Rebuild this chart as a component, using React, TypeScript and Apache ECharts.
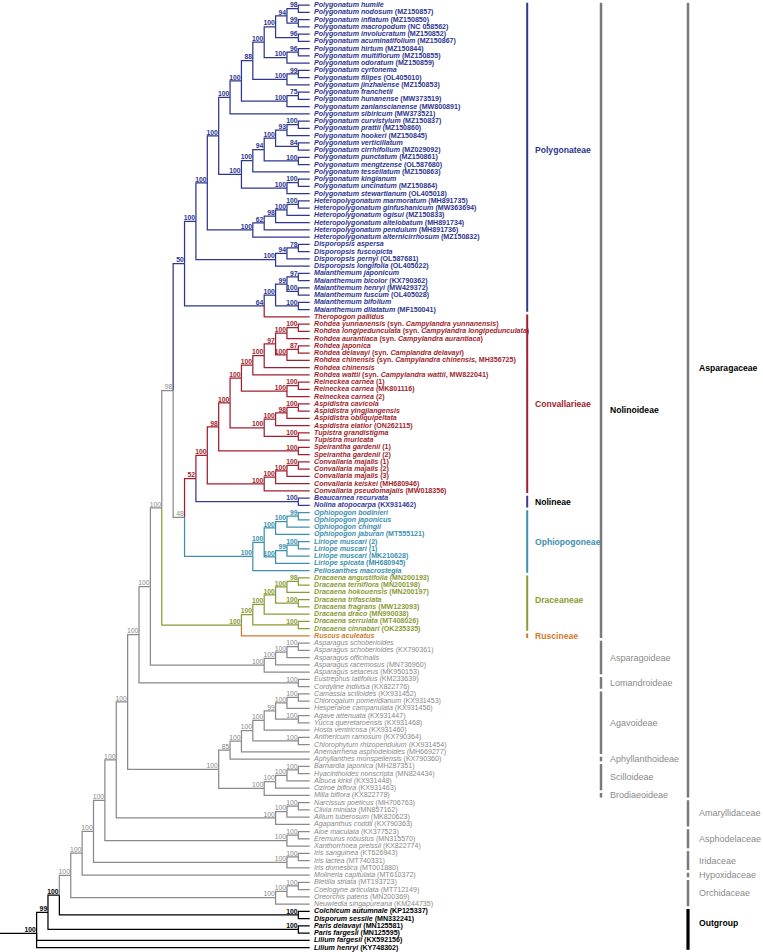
import React, { useEffect, useRef } from "react";
import * as echarts from "echarts";

// ---------------- DATA ----------------
const LEAF_LABELS: string[] = [
  "Polygonatum humile",
  "Polygonatum nodosum (MZ150857)",
  "Polygonatum inflatum (MZ150850)",
  "Polygonatum macropodum (NC 058562)",
  "Polygonatum involucratum (MZ150852)",
  "Polygonatum acuminatifolium (MZ150867)",
  "Polygonatum hirtum (MZ150844)",
  "Polygonatum multiflorum (MZ150855)",
  "Polygonatum odoratum (MZ150859)",
  "Polygonatum cyrtonema",
  "Polygonatum filipes (OL405010)",
  "Polygonatum jinzhaiense (MZ150853)",
  "Polygonatum franchetii",
  "Polygonatum hunanense (MW373519)",
  "Polygonatum zanlanscianense (MW800891)",
  "Polygonatum sibiricum (MW373521)",
  "Polygonatum curvistylum (MZ150837)",
  "Polygonatum prattii (MZ150860)",
  "Polygonatum hookeri (MZ150845)",
  "Polygonatum verticillatum",
  "Polygonatum cirrhifolium (MZ029092)",
  "Polygonatum punctatum (MZ150861)",
  "Polygonatum mengtzense (OL587680)",
  "Polygonatum tessellatum (MZ150863)",
  "Polygonatum kingianum",
  "Polygonatum uncinatum (MZ150864)",
  "Polygonatum stewartianum (OL405018)",
  "Heteropolygonatum marmoratum (MH891735)",
  "Heteropolygonatum ginfushanicum (MW363694)",
  "Heteropolygonatum ogisui (MZ150833)",
  "Heteropolygonatum altelobatum (MH891734)",
  "Heteropolygonatum pendulum (MH891736)",
  "Heteropolygonatum alternicirrhosum (MZ150832)",
  "Disporopsis aspersa",
  "Disporopsis fuscopicta",
  "Disporopsis pernyi (OL587681)",
  "Disporopsis longifolia (OL405022)",
  "Maianthemum japonicum",
  "Maianthemum bicolor (KX790362)",
  "Maianthemum henryi (MW429372)",
  "Maianthemum fuscum (OL405028)",
  "Maianthemum bifolium",
  "Maianthemum dilatatum (MF150041)",
  "Theropogon pallidus",
  "Rohdea yunnanensis (syn. Campylandra yunnanensis)",
  "Rohdea longipedunculata (syn. Campylandra longipedunculata)",
  "Rohdea aurantiaca (syn. Campylandra aurantiaca)",
  "Rohdea japonica",
  "Rohdea delavayi (syn. Camplandra delavayi)",
  "Rohdea chinensis (syn. Campylandra chinensis, MH356725)",
  "Rohdea chinensis",
  "Rohdea wattii (syn. Campylandra wattii, MW822041)",
  "Reineckea carnea (1)",
  "Reineckea carnea (MK801116)",
  "Reineckea carnea (2)",
  "Aspidistra cavicola",
  "Aspidistra yingjiangensis",
  "Aspidistra obliquipeltata",
  "Aspidistra elatior (ON262115)",
  "Tupistra grandistigma",
  "Tupistra muricata",
  "Speirantha gardenii (1)",
  "Speirantha gardenii (2)",
  "Convallaria majalis (1)",
  "Convallaria majalis (2)",
  "Convallaria majalis (3)",
  "Convallaria keiskei (MH680946)",
  "Convallaria pseudomajalis (MW018356)",
  "Beaucarnea recurvata",
  "Nolina atopocarpa (KX931462)",
  "Ophiopogon bodinieri",
  "Ophiopogon japonicus",
  "Ophiopogon chingii",
  "Ophiopogon jaburan (MT555121)",
  "Liriope muscari (2)",
  "Liriope muscari (1)",
  "Liriope muscari (MK210628)",
  "Liriope spicata (MH680945)",
  "Peliosanthes macrostegia",
  "Dracaena angustifolia (MN200193)",
  "Dracaena terniflora (MN200198)",
  "Dracaena hokouensis (MN200197)",
  "Dracaena trifasciata",
  "Dracaena fragrans (MW123093)",
  "Dracaena draco (MN990038)",
  "Dracaena serrulata (MT408026)",
  "Dracaena cinnabari (OK235335)",
  "Ruscus aculeatus",
  "Asparagus schoberioides",
  "Asparagus schoberioides (KX790361)",
  "Asparagus officinalis",
  "Asparagus racemosus (MN736960)",
  "Asparagus setaceus (MK950153)",
  "Eustrephus latifolius (KM233639)",
  "Cordyline indivisa (KX822776)",
  "Camassia scilloides (KX931452)",
  "Chlorogalum pomeridianum (KX931453)",
  "Hesperaloe campanulata (KX931456)",
  "Agave attenuata (KX931447)",
  "Yucca queretaroensis (KX931468)",
  "Hosta ventricosa (KX931460)",
  "Anthericum ramosum (KX790364)",
  "Chlorophytum rhizopendulum (KX931454)",
  "Anemarrhena asphodeloides (MH669277)",
  "Aphyllanthes monspeliensis (KX790360)",
  "Barnardia japonica (MH287351)",
  "Hyacinthoides nonscripta (MN824434)",
  "Albuca kirkii (KX931448)",
  "Oziroe biflora (KX931463)",
  "Milla biflora (KX822778)",
  "Narcissus poeticus (MH706763)",
  "Clivia miniata (MN857162)",
  "Allium tuberosum (MK820623)",
  "Agapanthus coddii (KX790363)",
  "Aloe maculata (KX377523)",
  "Eremurus robustus (MN315570)",
  "Xanthorrhoea preissii (KX822774)",
  "Iris sanguinea (KT626943)",
  "Iris lactea (MT740331)",
  "Iris domestica (MT001880)",
  "Molineria capitulata (MT610372)",
  "Bletilla striata (MT193723)",
  "Coelogyne articulata (MT712149)",
  "Oreorchis patens (MN200369)",
  "Neuwiedia singapureana (KM244735)",
  "Colchicum autumnale (KP125337)",
  "Disporum sessile (MN332241)",
  "Paris delavayi (MN125581)",
  "Paris fargesii (MN125595)",
  "Lilium fargesii (KX592156)",
  "Lilium henryi (KY748302)",
];

// leaf colour groups: [group, firstLeaf, lastLeaf]
const LEAF_GROUPS: [string, number, number][] = [
  ["P", 0, 42],
  ["C", 43, 67],
  ["N", 68, 69],
  ["O", 70, 78],
  ["D", 79, 86],
  ["R", 87, 87],
  ["G", 88, 124],
  ["K", 125, 130],
];

const TRIBES: [string, number, number][] = [
  ["Polygonateae", 0, 42],
  ["Convallarieae", 43, 67],
  ["Nolineae", 68, 69],
  ["Ophiopogoneae", 70, 78],
  ["Draceaneae", 79, 86],
  ["Ruscineae", 87, 87],
];
const SUBFAMILIES: [string, number, number][] = [
  ["Nolinoideae", 0, 87],
  ["Asparagoideae", 88, 92],
  ["Lomandroideae", 93, 94],
  ["Agavoideae", 95, 103],
  ["Aphyllanthoideae", 104, 104],
  ["Scilloideae", 105, 108],
  ["Brodiaeoideae", 109, 109],
];
const FAMILIES: [string, number, number][] = [
  ["Asparagaceae", 0, 109],
  ["Amaryllidaceae", 110, 113],
  ["Asphodelaceae", 114, 116],
  ["Iridaceae", 117, 119],
  ["Hypoxidaceae", 120, 120],
  ["Orchidaceae", 121, 124],
  ["Outgroup", 125, 130],
];

// ---------------- TREE TOPOLOGY (leaf indices, bootstrap labels) ----------------
type TNode = number | { b: string; col?: string; c: TNode[] };
const N = (b: string, ...c: TNode[]): TNode => ({ b, c });
const NC = (b: string, col: string, ...c: TNode[]): TNode => ({ b, col, c });

const P_A = N("94", N("98", 0, 1), N("99", 2, 3));
const P_C = N("100", N("96", 6, 7), 8);
const P_E = N("100", N("99", 9, 10), 11);
const P_G = N("100", N("75", 12, 13), 14);
const POLY_I = N("100", N("100", N("88", N("100", N("100", P_A, N("96", 4, 5)), P_C), P_E), P_G), 15);
const POLY_II = N(
  "100",
  N("100", N("94", N("100", N("93", N("100", 16, 17), 18), N("84", 19, 20)), N("100", 21, 22)), 23),
  N("100", N("100", 24, 25), 26)
);
const HETERO = N("100", N("62", N("98", N("100", N("100", 27, 28), 29), 30), 31), 32);
const DISPOROPSIS = N("100", N("94", N("78", 33, 34), 35), 36);
const MAIANTHEMUM = N("100", N("99", N("97", 37, 38), N("100", 39, 40)), N("100", 41, 42));
const POLYGONATEAE = NC(
  "50",
  "P",
  N("100", N("100", N("100", POLY_I, POLY_II), HETERO), DISPOROPSIS),
  NC("64", "P", MAIANTHEMUM, 43)
);
const ROHDEA = N(
  "100",
  N("100", N("97", N("100", N("100", 44, 45), 46), N("100", N("87", 47, 48), 49)), 50),
  51
);
const REINECKEA = N("100", N("100", 52, 53), 54);
const ASPIDISTRA = N("100", N("98", N("100", 55, 56), 57), 58);
const CONVALLARIA = N("100", N("100", N("100", N("100", 63, 64), 65), 66), 67);
const CONVALLARIEAE = N(
  "100",
  N("98", N("100", N("100", ROHDEA, REINECKEA), N("100", ASPIDISTRA, N("100", 59, 60))), N("100", 61, 62)),
  CONVALLARIA
);
const OPHIOPOGONEAE = N(
  "100",
  N("100", N("100", N("100", N("99", 70, 71), 72), 73), N("100", N("99", N("100", 74, 75), 76), 77)),
  78
);
const DRACAENA = N(
  "100",
  N("100", N("100", N("100", N("98", 79, 80), 81), N("100", 82, 83)), 84),
  N("100", 85, 86)
);
const NOLINOIDEAE = N(
  "100",
  N("98", POLYGONATEAE, N("48", NC("52", "C", CONVALLARIEAE, N("100", 68, 69)), OPHIOPOGONEAE)),
  NC("100", "D", DRACAENA, 87)
);
const ASPARAGOIDEAE = N("100", N("100", N("100", N("100", 88, 89), 90), 91), 92);
const AGAVOIDEAE = N(
  "100",
  N("100", N("100", N("99", N("100", N("100", 95, 96), 97), N("100", 98, 99)), 100), N("100", 101, 102)),
  103
);
const SCILLOIDEAE = N("100", N("100", N("100", N("100", 105, 106), 107), 108), 109);
const ASPARAGACEAE = N(
  "100",
  N("100", N("100", NOLINOIDEAE, ASPARAGOIDEAE), N("100", 93, 94)),
  N("100", N("85", AGAVOIDEAE, 104), SCILLOIDEAE)
);
const INGROUP = N(
  "100",
  N(
    "100",
    N(
      "100",
      N("100", N("100", ASPARAGACEAE, N("100", N("100", N("100", 110, 111), 112), 113)), N("100", N("100", 114, 115), 116)),
      N("100", N("100", 117, 118), 119)
    ),
    120
  ),
  N("100", N("100", N("100", 121, 122), 123), 124)
);
const TREE = NC(
  "100",
  "K",
  NC("99", "K", NC("100", "K", INGROUP, N("100", 125, 126)), N("100", 127, 128)),
  129,
  130
);

// ---------------- STYLES ----------------
const COLORS: Record<string, string> = {
  P: "#2e368f",
  C: "#a11f2e",
  N: "#38389a",
  O: "#3d90ad",
  D: "#8c9b36",
  R: "#cf7b2c",
  G: "#8a8a8a",
  K: "#000000",
};
const FONT = "'Liberation Sans', Arial, Helvetica, sans-serif";
const X0 = 36.6; // root x (px)
const STEP = 11.38; // px per node level
const TOP = 5;
const ROW = 7.25;
const LABEL_STYLE: Record<string, { bar: string; text: string; bold: boolean; at?: number; w?: number }> = {
  Polygonateae: { bar: COLORS.P, text: COLORS.P, bold: true, at: 20 },
  Convallarieae: { bar: COLORS.C, text: COLORS.C, bold: true },
  Nolineae: { bar: COLORS.N, text: "#000", bold: true },
  Ophiopogoneae: { bar: COLORS.O, text: COLORS.O, bold: true },
  Draceaneae: { bar: COLORS.D, text: COLORS.D, bold: true, at: 82.1 },
  Ruscineae: { bar: COLORS.R, text: COLORS.R, bold: true },
  Nolinoideae: { bar: "#7a7a7a", text: "#000", bold: true, at: 55.9 },
  Asparagaceae: { bar: "#7a7a7a", text: "#000", bold: true, at: 50 },
  Outgroup: { bar: "#000", text: "#000", bold: true, at: 126.6, w: 3.2 },
};

function leafGroup(i: number): string {
  for (const [g, a, b] of LEAF_GROUPS) if (i >= a && i <= b) return g;
  return "G";
}

interface LNode {
  h: number;
  y: number;
  b?: string;
  color: string;
  kids: LNode[];
  groups: Set<string>;
}
function build(t: TNode): LNode {
  if (typeof t === "number") {
    const g = leafGroup(t);
    return { h: 0, y: t, color: g, kids: [], groups: new Set([g]) };
  }
  const kids = t.c.map(build);
  const h = 1 + Math.max(...kids.map((k) => k.h));
  const y = kids.reduce((s, k) => s + k.y, 0) / kids.length;
  const groups = new Set<string>();
  kids.forEach((k) => k.groups.forEach((g) => groups.add(g)));
  const color = t.col ?? (groups.size === 1 ? [...groups][0] : "G");
  return { h, y, b: t.b, color, kids, groups };
}

function richLabel(s: string): string {
  const m = s.match(/^(\S+ \S+)(.*)$/);
  if (!m) return `{i|${s}}`;
  let out = `{i|${m[1]}}`;
  const rest = m[2];
  if (!rest) return out;
  const sm = rest.match(/^(.*?syn\. )(\S+ [^,\s)]+)(.*)$/);
  if (sm) out += `{n|${sm[1]}}{i|${sm[2]}}{n|${sm[3]}}`;
  else out += `{n|${rest}}`;
  return out;
}

export default function App() {
  const ref = useRef<HTMLDivElement>(null);
  useEffect(() => {
    document.body.style.margin = "0";
    const chart = echarts.init(ref.current!, null, { renderer: "svg" });
    const root = build(TREE);
    const H = root.h;

    const edges: { pv: number; py: number; cv: number; cy: number; col: string }[] = [];
    const inner: { v: number; y: number; b: string; col: string }[] = [];
    const walk = (n: LNode) => {
      if (n.kids.length === 0) return;
      inner.push({ v: H - n.h, y: n.y, b: n.b || "", col: n.color });
      n.kids.forEach((k) => {
        edges.push({ pv: H - n.h, py: n.y, cv: H - k.h, cy: k.y, col: k.color });
        walk(k);
      });
    };
    walk(root);
    edges.push({ pv: -X0 / STEP, py: root.y, cv: 0, cy: root.y, col: "K" });

    const clades: { name: string; a: number; b: number; level: number }[] = [];
    TRIBES.forEach(([name, a, b]) => clades.push({ name, a, b, level: 0 }));
    SUBFAMILIES.forEach(([name, a, b]) => clades.push({ name, a, b, level: 1 }));
    FAMILIES.forEach(([name, a, b]) => clades.push({ name, a, b, level: 2 }));
    const BAR_X = [526.2, 600, 687];
    const TXT_X = [535, 610, 699];

    const option: any = {
      animation: false,
      grid: { left: X0, top: TOP, width: H * STEP, height: 130 * ROW },
      xAxis: { type: "value", min: 0, max: H, show: false },
      yAxis: { type: "value", min: 0, max: 130, inverse: true, show: false },
      series: [
        {
          type: "custom",
          coordinateSystem: "cartesian2d",
          clip: false,
          silent: true,
          data: edges.map((e) => [e.pv, e.py, e.cv, e.cy]),
          renderItem: (params: any, api: any) => {
            const e = edges[params.dataIndex];
            const p = api.coord([api.value(0), api.value(1)]);
            const c = api.coord([api.value(2), api.value(3)]);
            return {
              type: "polyline",
              shape: { points: [p, [p[0], c[1]], c] },
              style: { stroke: COLORS[e.col], lineWidth: 1.25, fill: "none" },
            };
          },
        },
        {
          type: "custom",
          coordinateSystem: "cartesian2d",
          clip: false,
          silent: true,
          data: inner.map((n) => [n.v, n.y]),
          renderItem: (params: any, api: any) => {
            const n = inner[params.dataIndex];
            const p = api.coord([api.value(0), api.value(1)]);
            return {
              type: "text",
              style: {
                text: n.b,
                x: p[0] - 0.8,
                y: p[1] - 0.3,
                align: "right",
                verticalAlign: "bottom",
                fontSize: 6.8,
                fontFamily: FONT,
                fontWeight: n.col === "G" ? "normal" : "bold",
                fill: COLORS[n.col],
              },
            };
          },
        },
        {
          type: "custom",
          coordinateSystem: "cartesian2d",
          clip: false,
          silent: true,
          data: LEAF_LABELS.map((_, i) => [H, i]),
          renderItem: (params: any, api: any) => {
            const i = params.dataIndex;
            const g = leafGroup(i);
            const p = api.coord([api.value(0), api.value(1)]);
            const bold = g === "G" ? "normal" : "bold";
            const base = { fontSize: 7.1, fontFamily: FONT, fontWeight: bold, fill: COLORS[g] };
            return {
              type: "text",
              style: {
                text: richLabel(LEAF_LABELS[i]),
                x: p[0] + 4.3,
                y: p[1],
                align: "left",
                verticalAlign: "middle",
                ...base,
                rich: {
                  i: { ...base, fontStyle: "italic" },
                  n: { ...base, fontStyle: "normal" },
                },
              },
            };
          },
        },
        {
          type: "custom",
          coordinateSystem: "cartesian2d",
          clip: false,
          silent: true,
          data: clades.map((c) => [c.a, c.b]),
          renderItem: (params: any, api: any) => {
            const c = clades[params.dataIndex];
            const st = LABEL_STYLE[c.name] || { bar: c.level === 0 ? "#888" : "#7a7a7a", text: "#8a8a8a", bold: false };
            const y1 = api.coord([0, api.value(0)])[1] - 2.3;
            const y2 = api.coord([0, api.value(1)])[1] + 2.3;
            const at = st.at !== undefined ? st.at : (c.a + c.b) / 2;
            const ly = api.coord([0, at])[1];
            const w = st.w || (c.level === 0 ? 2 : 2.5);
            return {
              type: "group",
              children: [
                {
                  type: "rect",
                  shape: { x: BAR_X[c.level] - w / 2 + 1, y: y1, width: w, height: y2 - y1 },
                  style: { fill: st.bar },
                },
                {
                  type: "text",
                  style: {
                    text: c.name,
                    x: TXT_X[c.level],
                    y: ly,
                    align: "left",
                    verticalAlign: "middle",
                    fontSize: st.bold ? 8.6 : 9,
                    fontFamily: FONT,
                    fontWeight: st.bold ? "bold" : "normal",
                    fill: st.text,
                  },
                },
              ],
            };
          },
        },
      ],
    };
    chart.setOption(option);
    return () => chart.dispose();
  }, []);
  return <div ref={ref} style={{ position: "absolute", left: 0, top: 0, width: 763, height: 952 }} />;
}
